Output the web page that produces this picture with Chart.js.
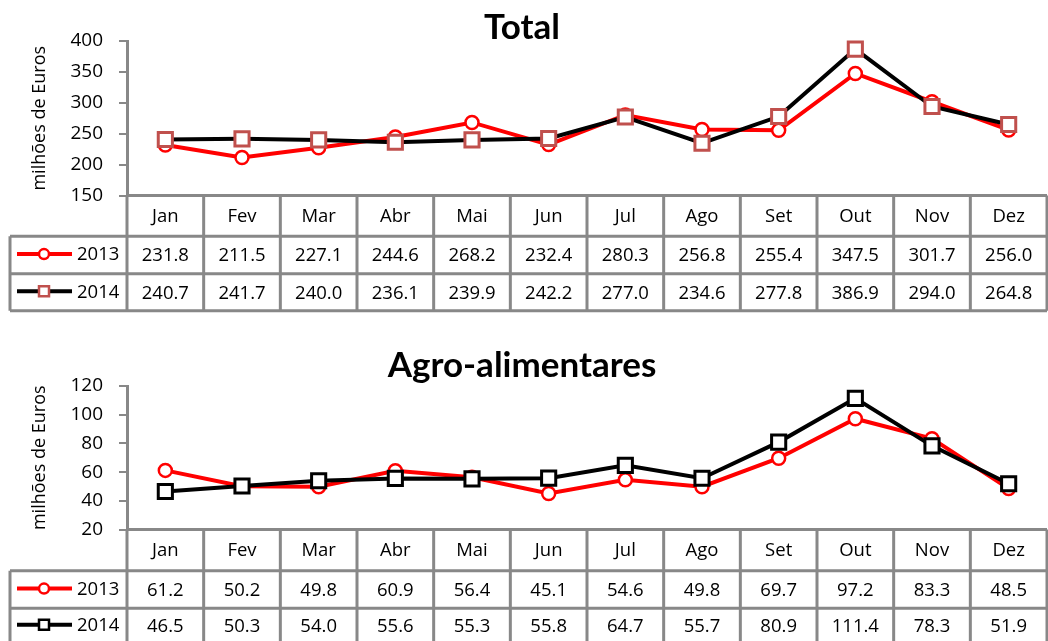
<!DOCTYPE html>
<html><head><meta charset="utf-8">
<script src="https://cdn.jsdelivr.net/npm/chart.js@4.4.1/dist/chart.umd.min.js"></script>
<style>
html,body{margin:0;padding:0;background:#fff;overflow:hidden;}
#wrap{position:relative;width:1048px;height:641px;overflow:hidden;background:#fff;}
canvas{position:absolute;left:0;}
</style></head><body>
<div id="wrap">
<canvas id="c1" width="1060" height="320" style="top:0px"></canvas>
<canvas id="c2" width="1060" height="321" style="top:320px"></canvas>
</div>
<script>
const months = ['Jan','Fev','Mar','Abr','Mai','Jun','Jul','Ago','Set','Out','Nov','Dez'];
const seriesNames = ['2013','2014'];
const total2013 = [231.8,211.5,227.1,244.6,268.2,232.4,280.3,256.8,255.4,347.5,301.7,256.0];
const total2014 = [240.7,241.7,240.0,236.1,239.9,242.2,277.0,234.6,277.8,386.9,294.0,264.8];
const agro2013 = [61.2,50.2,49.8,60.9,56.4,45.1,54.6,49.8,69.7,97.2,83.3,48.5];
const agro2014 = [46.5,50.3,54.0,55.6,55.3,55.8,64.7,55.7,80.9,111.4,78.3,51.9];
const totalTicks = {min:150, max:400, step:50};
const agroTicks = {min:20, max:120, step:20};

const FONT = '"Open Sans"';
const TFONT = 'Lato';
const GRID = '#888888';

function drawMarker(ctx, style, x, y, border, fill){
  ctx.save();
  ctx.fillStyle = fill; ctx.strokeStyle = border;
  ctx.lineWidth = 2.5;
  ctx.beginPath();
  if(style==='circle') ctx.arc(x,y,5,0,Math.PI*2);
  else ctx.rect(x-5,y-5,10,10);
  ctx.fill(); ctx.stroke();
  ctx.restore();
}

const tablePlugin = {
  id:'tbl',
  afterDraw(chart, args, o){
    const {ctx, chartArea:a} = chart;
    const x = chart.scales.x;
    const n = o.labels.length;
    const cx = i => x.getPixelForValue(i);
    const half = (cx(1)-cx(0))/2;
    const bounds = [];
    for(let i=0;i<=n;i++) bounds.push(i<n ? cx(i)-half : cx(n-1)+half);
    const y0=a.bottom, y1=y0+o.rows[0], y2=y1+o.rows[1], y3=y2+o.rows[2];
    const L=10, R=bounds[n];
    ctx.save();
    ctx.strokeStyle=GRID; ctx.lineWidth=3;
    ctx.beginPath();
    ctx.moveTo(bounds[0],y0); ctx.lineTo(R,y0);
    [y1,y2,y3].forEach(y=>{ctx.moveTo(L,y); ctx.lineTo(R,y);});
    bounds.forEach(b=>{ctx.moveTo(b,y0); ctx.lineTo(b,y3);});
    ctx.moveTo(L,y1); ctx.lineTo(L,y3);
    ctx.stroke();
    ctx.fillStyle='#000';
    ctx.font = '18.5px '+FONT;
    ctx.textAlign='center'; ctx.textBaseline='middle';
    o.labels.forEach((m,i)=>ctx.fillText(m, cx(i), (y0+y1)/2+1));
    const rowsY=[(y1+y2)/2+1,(y2+y3)/2+1];
    chart.data.datasets.forEach((ds,k)=>{
      const yy=rowsY[k];
      ds.data.forEach((v,i)=>ctx.fillText(v.toFixed(1), cx(i), yy));
      ctx.save();
      ctx.strokeStyle=ds.borderColor; ctx.lineWidth=4;
      ctx.beginPath(); ctx.moveTo(17,yy-2); ctx.lineTo(72,yy-2); ctx.stroke();
      ctx.restore();
      drawMarker(ctx, ds.pointStyle, 44, yy-2, ds.pointBorderColor, ds.pointBackgroundColor);
      ctx.textAlign='left';
      ctx.fillText(ds.label, 77, yy-1);
      ctx.textAlign='center';
    });
    ctx.font='bold 35px '+TFONT;
    ctx.textBaseline='alphabetic';
    ctx.fillText(o.title, 522, o.titleY);
    ctx.restore();
  }
};

function makeChart(id, title, titleY, s13, s14, tk, sqBorder, padTop, padBottom, rows){
  new Chart(document.getElementById(id), {
    type:'line',
    data:{
      labels: months,
      datasets:[
        {label:seriesNames[0], data:s13, borderColor:'#ff0000', borderWidth:4,
         pointStyle:'circle', pointRadius:6.5, pointBorderWidth:2.5,
         pointBackgroundColor:'#ffffff', pointBorderColor:'#ff0000', tension:0, order:1, clip:false},
        {label:seriesNames[1], data:s14, borderColor:'#000000', borderWidth:4,
         pointStyle:'rect', pointRadius:10, pointBorderWidth:3,
         pointBackgroundColor:'#ffffff', pointBorderColor:sqBorder, tension:0, order:0, clip:false}
      ]
    },
    options:{
      responsive:false, animation:false, devicePixelRatio:1,
      layout:{padding:{top:padTop, bottom:padBottom, left:0, right:2}},
      plugins:{legend:{display:false}, tooltip:{enabled:false}, title:{display:false},
        tbl:{labels:months, rows:rows, title:title, titleY:titleY}},
      scales:{
        x:{display:false, offset:true},
        y:{min:tk.min, max:tk.max,
           ticks:{stepSize:tk.step, color:'#000', font:{family:FONT, size:19}, padding:16},
           grid:{drawOnChartArea:false, drawTicks:true, tickLength:8, color:GRID, lineWidth:2},
           border:{color:GRID, width:3},
           title:{display:true, text:'milhões de Euros', color:'#000', font:{family:FONT, size:18}, padding:{top:29,bottom:0}},
           afterFit(s){ s.width=127; }
        }
      }
    },
    plugins:[tablePlugin]
  });
}

makeChart('c1','Total',38.5,total2013,total2014,totalTicks,'#c0504d',41,124.5,[40.8,37.5,37]);
makeChart('c2','Agro-alimentares',56.5,agro2013,agro2014,agroTicks,'#000000',66,111.5,[41.3,37.5,35]);
</script>
</body></html>
